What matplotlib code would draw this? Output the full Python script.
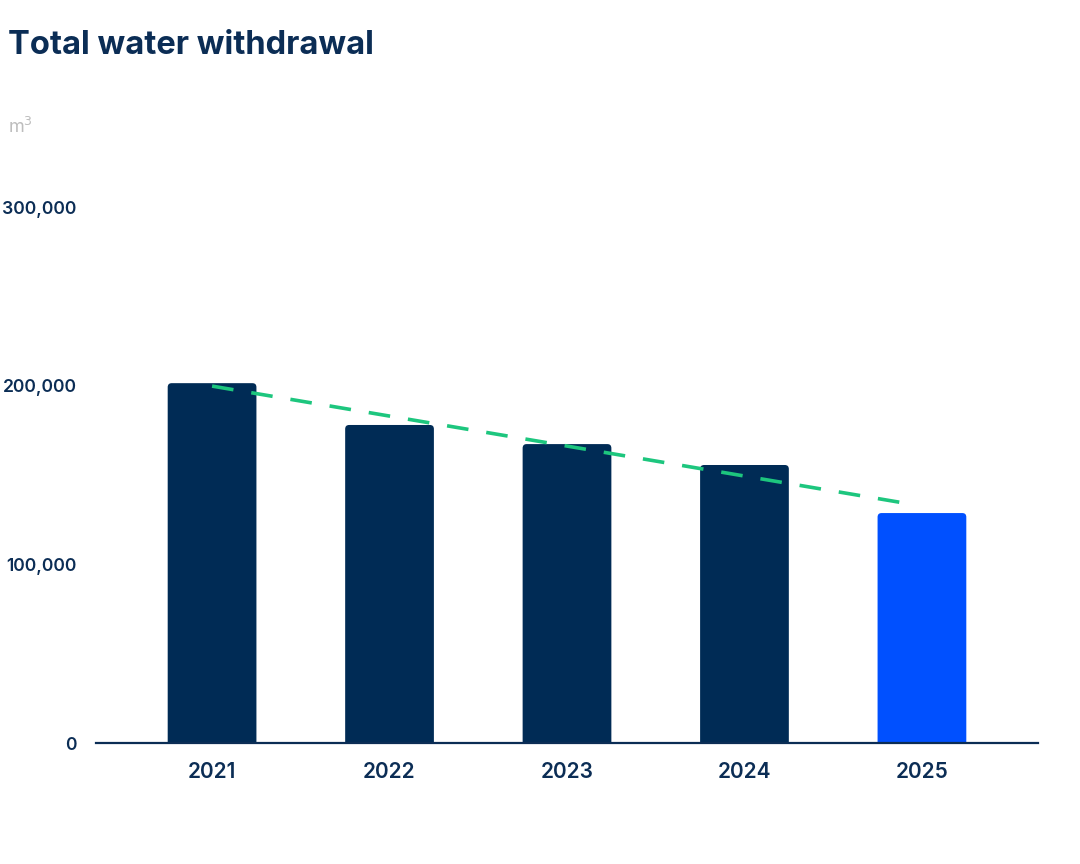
import numpy as np
import matplotlib
matplotlib.use("Agg")
import matplotlib.pyplot as plt
from matplotlib.patches import FancyBboxPatch

# data
years = ["2021", "2022", "2023", "2024", "2025"]
withdrawal = [201400, 178000, 167300, 155600, 128700]
yticks = [0, 100000, 200000, 300000]
ytick_labels = ["0", "100,000", "200,000", "300,000"]

navy = "#002B55"
blue = "#0050FF"
green = "#1DC67E"
text_col = "#0B2D55"

plt.rcParams['font.family'] = ['Inter', 'DejaVu Sans']

fig = plt.figure(figsize=(10.8, 8.64), dpi=100)
ax = fig.add_axes([96/1080, 1 - 743/864, (1038-96)/1080, (743-207)/864])

ax.set_xlim(-0.654, 4.654)
ax.set_ylim(0, 300000)

x = np.arange(len(years))
colors = [navy] * (len(years) - 1) + [blue]
bars = ax.bar(x, withdrawal, width=0.5, color=colors, zorder=2)

# swap plain bars for ones with slightly rounded tops
# (bottom pushed below 0 so only the top corners show)
x_per_px = (4.654 + 0.654) / 942
y_per_px = 300000 / 536
for b in bars:
    bx, bw, bh = b.get_x(), b.get_width(), b.get_height()
    under = 6 * y_per_px
    rp = FancyBboxPatch((bx, -under), bw, bh + under,
                        boxstyle="round,pad=0,rounding_size=%f" % (4 * x_per_px),
                        mutation_aspect=y_per_px / x_per_px,
                        facecolor=b.get_facecolor(), edgecolor='none', zorder=2)
    b.remove()
    ax.add_patch(rp)

# linear trend through the values
slope, icpt = np.polyfit(x, withdrawal, 1)
xt = np.array([x[0], x[-1] - 0.05])
ax.plot(xt, slope * xt + icpt, color=green, lw=2.6, dashes=(6, 5), zorder=3)

ax.set_xticks(x)
ax.set_xticklabels(years, fontsize=15, fontweight='semibold', color=text_col)
ax.set_yticks(yticks)
ax.set_yticklabels(ytick_labels, fontsize=12.6, fontweight='semibold', color=text_col)
ax.tick_params(axis='both', length=0)
ax.tick_params(axis='x', pad=14)
ax.tick_params(axis='y', pad=14)

for s in ['top', 'right', 'left']:
    ax.spines[s].set_visible(False)
ax.spines['bottom'].set_color(text_col)
ax.spines['bottom'].set_linewidth(1.6)
ax.spines['bottom'].set_zorder(4)

fig.text(8/1080, 1 - 45/864, "Total water withdrawal", fontsize=23.5, fontweight='bold',
         color=text_col, va='center', ha='left')
fig.text(8/1080, 1 - 127/864, "m$^3$", fontsize=13, color="#BDBDBD", va='center', ha='left')

fig.savefig("out.png", dpi=100)
